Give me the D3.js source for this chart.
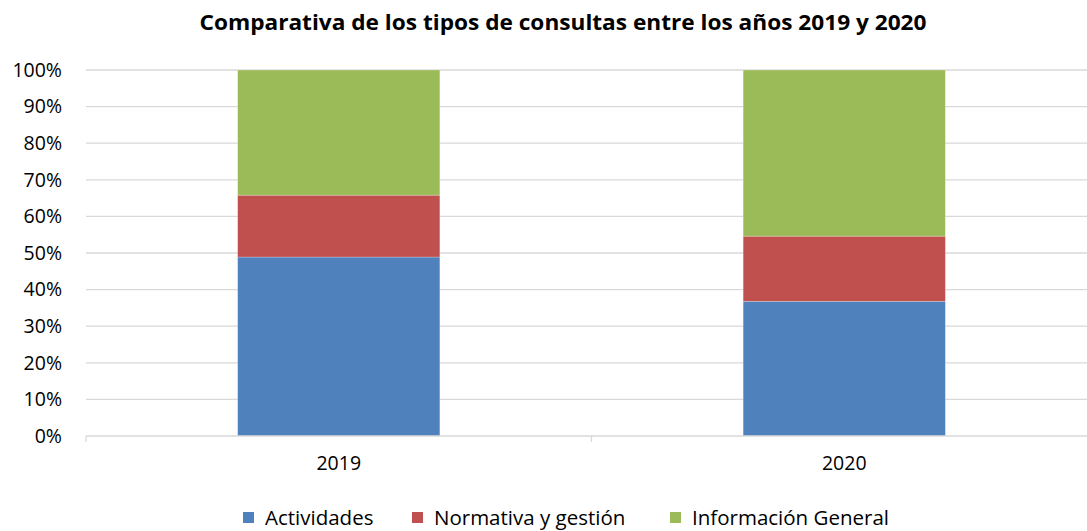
<!DOCTYPE html>
<html>
<head>
<meta charset="utf-8">
<script src="https://cdn.jsdelivr.net/npm/d3@7"></script>
<style>
  body { margin: 0; background: #fff; }
  svg { display: block; font-family: "Open Sans", sans-serif; }
</style>
</head>
<body>
<div id="chart"></div>
<script>
const width = 1087;
const height = 531;

const years = ["2019", "2020"];
const seriesNames = ["Actividades", "Normativa y gestión", "Información General"];
const actividades = [48.9, 36.8];
const normativa = [16.9, 17.8];
const informacion = [34.2, 45.4];
const colors = ["#4F81BD", "#C0504D", "#9BBB59"];
const yTicks = [0, 10, 20, 30, 40, 50, 60, 70, 80, 90, 100];

const rows = years.map((yr, i) => ({
  year: yr,
  "Actividades": actividades[i],
  "Normativa y gestión": normativa[i],
  "Información General": informacion[i]
}));

const svg = d3.select("#chart")
  .append("svg")
  .attr("width", width)
  .attr("height", height);

const x = d3.scaleBand()
  .domain(years)
  .range([86, 1097])
  .paddingInner(0.6)
  .paddingOuter(0.3);

const y = d3.scaleLinear()
  .domain([0, 100])
  .range([436, 70]);

// gridlines
svg.append("g")
  .selectAll("line")
  .data(yTicks.filter(d => d > 0))
  .join("line")
  .attr("x1", 86)
  .attr("x2", 1097)
  .attr("y1", d => y(d))
  .attr("y2", d => y(d))
  .attr("stroke", "#D9D9D9")
  .attr("stroke-width", 1.3);

// y axis labels
const yAxis = d3.axisLeft(y)
  .tickValues(yTicks)
  .tickFormat(d => d + "%")
  .tickSize(0)
  .tickPadding(24);

svg.append("g")
  .attr("transform", "translate(86,0)")
  .call(yAxis)
  .call(g => g.select(".domain").remove())
  .selectAll("text")
  .attr("font-family", "Open Sans")
  .attr("font-size", 19.5)
  .attr("fill", "#000");

// stacked bars
const stack = d3.stack().keys(seriesNames);
const layers = stack(rows);

svg.append("g")
  .selectAll("g")
  .data(layers)
  .join("g")
  .attr("fill", (d, i) => colors[i])
  .selectAll("rect")
  .data(d => d)
  .join("rect")
  .attr("x", d => x(d.data.year))
  .attr("width", x.bandwidth())
  .attr("y", d => y(d[1]))
  .attr("height", d => y(d[0]) - y(d[1]))
  .attr("stroke", "rgba(255,255,255,0.35)")
  .attr("stroke-width", 0.7);

// category axis
svg.append("line")
  .attr("x1", 86).attr("x2", 1097)
  .attr("y1", y(0)).attr("y2", y(0))
  .attr("stroke", "#D9D9D9")
  .attr("stroke-width", 1.3);

const boundaries = [x.range()[0], (x("2019") + x("2020") + x.bandwidth()) / 2, x.range()[1]];
svg.append("g")
  .selectAll("line")
  .data(boundaries)
  .join("line")
  .attr("x1", d => d).attr("x2", d => d)
  .attr("y1", y(0)).attr("y2", y(0) + 6)
  .attr("stroke", "#D9D9D9")
  .attr("stroke-width", 1.3);

const xAxis = d3.axisBottom(x).tickSize(0).tickPadding(20);
svg.append("g")
  .attr("transform", `translate(0,${y(0)})`)
  .call(xAxis)
  .call(g => g.select(".domain").remove())
  .selectAll("text")
  .attr("font-family", "Open Sans")
  .attr("font-size", 19.5)
  .attr("fill", "#000");

// title
svg.append("text")
  .attr("x", 563)
  .attr("y", 30)
  .attr("text-anchor", "middle")
  .attr("font-weight", "bold")
  .attr("font-size", 21)
  .attr("textLength", 727)
  .attr("lengthAdjust", "spacingAndGlyphs")
  .attr("fill", "#000")
  .text("Comparativa de los tipos de consultas entre los años 2019 y 2020");

// legend
const legendX = [243, 412, 670];
const legend = svg.append("g")
  .selectAll("g")
  .data(seriesNames)
  .join("g")
  .attr("transform", (d, i) => `translate(${legendX[i]},512)`);

legend.append("rect")
  .attr("width", 11)
  .attr("height", 11)
  .attr("fill", (d, i) => colors[i]);

legend.append("text")
  .attr("x", 22)
  .attr("y", 13)
  .attr("font-size", 20.5)
  .attr("fill", "#000")
  .text(d => d);
</script>
</body>
</html>
